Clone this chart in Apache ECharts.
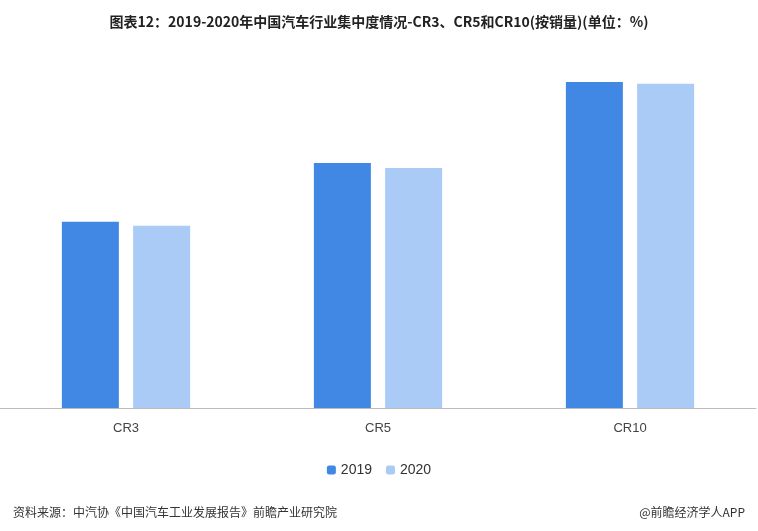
<!DOCTYPE html>
<html><head><meta charset="utf-8">
<script src="https://cdn.jsdelivr.net/npm/echarts@6/dist/echarts.min.js"></script>
<style>html,body{margin:0;padding:0;background:#fff}#c{width:758px;height:531px}</style>
</head><body><div id="c"></div>
<script>
var categories = ['CR3', 'CR5', 'CR10'];
var series2019 = [50.6, 66.6, 88.6];
var series2020 = [49.5, 65.2, 88.1];
var chart = echarts.init(document.getElementById('c'));
chart.setOption({
  animation: false,
  title: [{
    text: '图表12：2019-2020年中国汽车行业集中度情况-CR3、CR5和CR10(按销量)(单位：%)',
    left: 'center', top: 10,
    textStyle: {fontSize: 14, fontWeight: 'bold', color: '#222', fontFamily: 'Noto Sans CJK SC'}
  }, {
    text: '资料来源：中汽协《中国汽车工业发展报告》前瞻产业研究院',
    left: 8, top: 501,
    textStyle: {fontSize: 12, fontWeight: 'normal', color: '#333', fontFamily: 'Noto Sans CJK SC'}
  }, {
    text: '@前瞻经济学人APP',
    right: 8, top: 501,
    textStyle: {fontSize: 12, fontWeight: 'normal', color: '#333', fontFamily: 'Noto Sans CJK SC'}
  }],
  legend: {
    data: ['2019', '2020'], top: 458, left: 'center',
    itemWidth: 9, itemHeight: 9, itemGap: 14,
    textStyle: {fontSize: 14, color: '#333'}
  },
  grid: {left: -2, right: 2, top: 40, bottom: 123},
  xAxis: {
    type: 'category', data: categories,
    axisLine: {lineStyle: {color: '#bbb'}},
    axisTick: {show: false},
    axisLabel: {fontSize: 13, color: '#444', margin: 14}
  },
  yAxis: {type: 'value', min: 0, max: 100, show: false, splitLine: {show: false}},
  series: [
    {name: '2019', type: 'bar', data: series2019, barWidth: 57, barGap: '25%', itemStyle: {color: '#4187e4'}},
    {name: '2020', type: 'bar', data: series2020, barWidth: 57, itemStyle: {color: '#a9cbf5'}}
  ]
});
</script></body></html>
